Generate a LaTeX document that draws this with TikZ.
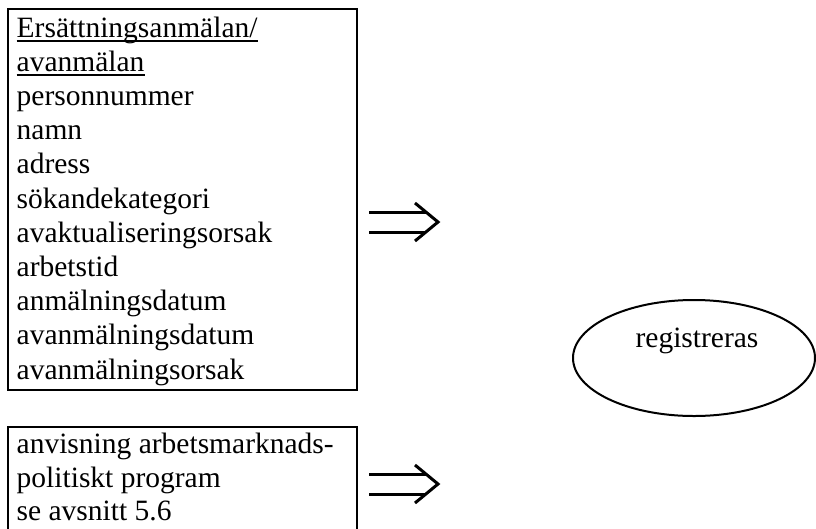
\documentclass[tikz,border=0pt]{standalone}
\usepackage{fontspec}
\setmainfont{Liberation Serif}
\usetikzlibrary{shapes.geometric}
\begin{document}
\begin{tikzpicture}[x=1pt,y=1pt,
  txt/.style={anchor=base west, inner sep=0pt, font=\fontsize{29.5}{34}\selectfont},
  frame/.style={line width=2pt},
  uline/.style={line width=1.5pt},
  dblarrow/.pic={
    \draw[line width=3pt] (0,10) -- (57,10) (0,-10) -- (57,-10);
    \draw[line width=3pt, line join=miter, line cap=butt] (46,19) -- (69,0) -- (46,-19);
  }]
\useasboundingbox (0,0) rectangle (816,-528);

% top box
\draw[frame] (8,-9) rectangle (357,-390);
\node[txt] (t1) at (16.5,-37) {Ersättningsanmälan/};
\node[txt] (t2) at (16.5,-71.2) {avanmälan};
\node[txt] (t3) at (16.5,-105.4) {personnummer};
\node[txt] (t4) at (16.5,-139.6) {namn};
\node[txt] (t5) at (16.5,-173.8) {adress};
\node[txt] (t6) at (16.5,-208) {sökandekategori};
\node[txt] (t7) at (16.5,-242.2) {avaktualiseringsorsak};
\node[txt] (t8) at (16.5,-276.4) {arbetstid};
\node[txt] (t9) at (16.5,-310.6) {anmälningsdatum};
\node[txt] (t10) at (16.5,-344.8) {avanmälningsdatum};
\node[txt] (t11) at (16.5,-379) {avanmälningsorsak};
\draw[uline] ([yshift=-4pt]t1.base west) -- ([yshift=-4pt]t1.base east);
\draw[uline] ([yshift=-4pt]t2.base west) -- ([yshift=-4pt]t2.base east);

% bottom box (cut off at the bottom)
\draw[frame] (8,-530) -- (8,-427) -- (357,-427) -- (357,-530);
\node[txt] (b1) at (16.5,-453) {anvisning arbetsmarknads-};
\node[txt] (b2) at (16.5,-487) {politiskt program};
\node[txt] (b3) at (16.5,-520.5) {se avsnitt 5.6};

% arrows
\coordinate (a1) at (369,-222);
\coordinate (a2) at (369,-484);
\pic at (a1) {dblarrow};
\pic at (a2) {dblarrow};

% ellipse
\node[ellipse, draw, line width=2pt, minimum width=242pt, minimum height=116pt, inner sep=0pt] (reg) at (694,-358) {};
\node[txt, anchor=base] (regt) at (697,-347) {registreras};
\end{tikzpicture}
\end{document}
